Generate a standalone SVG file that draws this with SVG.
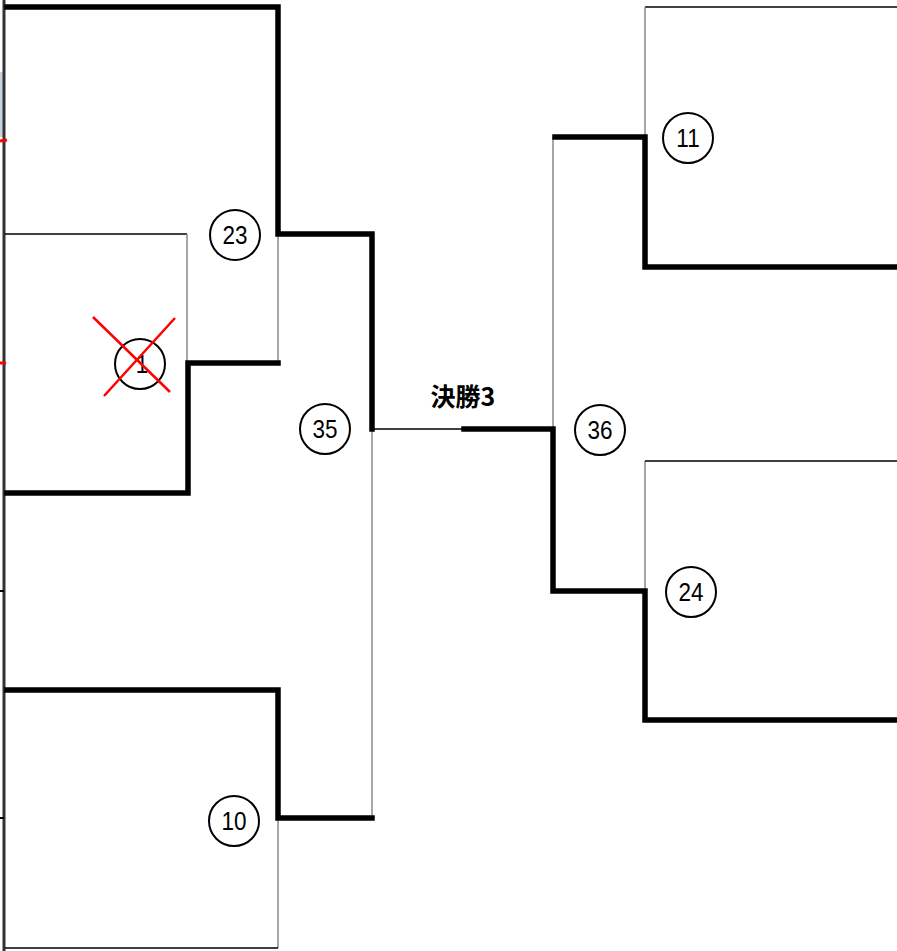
<svg xmlns="http://www.w3.org/2000/svg" width="897" height="951" viewBox="0 0 897 951">
<style>
.thick{fill:none;stroke:#000;stroke-width:5.5;stroke-linecap:square;stroke-linejoin:miter}
.thinh{fill:none;stroke:#000;stroke-width:1.3}
.thinv{fill:none;stroke:#888;stroke-width:1.5}
.c{fill:#fff;stroke:#000;stroke-width:2}
.n{font-family:"Liberation Sans",Arial,sans-serif;font-size:25px;fill:#000;text-anchor:middle}
.x{stroke:#f00;stroke-width:2.5}
</style>
<rect width="897" height="951" fill="#fff"/>
<g id="edge">
<rect x="0" y="72" width="3" height="65" fill="#c9d3e0"/>
<line x1="4" y1="0" x2="4" y2="951" stroke="#333" stroke-width="3"/>
<line x1="0" y1="141" x2="7" y2="140" stroke="#f00" stroke-width="3"/>
<line x1="0" y1="363" x2="6" y2="363" stroke="#f00" stroke-width="3"/>
<line x1="0" y1="591" x2="4" y2="591" stroke="#000" stroke-width="2"/>
<line x1="0" y1="818" x2="4" y2="818" stroke="#000" stroke-width="2"/>
</g>
<g id="connectors">
<polyline class="thinh" points="5,234 187,234"/>
<polyline class="thinv" points="187,234 187,363"/>
<polyline class="thinv" points="278,234 278,363"/>
<polyline class="thinv" points="278,818 278,948"/>
<polyline class="thinh" points="5,948 278,948"/>
<polyline class="thinv" points="372,429 372,818"/>
<polyline class="thinh" points="372,429 462,429"/>
<polyline class="thinh" points="645,7 897,7"/>
<polyline class="thinv" points="645,7 645,137"/>
<polyline class="thinv" points="553,137 553,429"/>
<polyline class="thinv" points="645,461 645,591"/>
<polyline class="thinh" points="645,461 897,461"/>
<polyline class="thick" points="7,7 278,7 278,234 372,234 372,429"/>
<polyline class="thick" points="7,493 188,493 188,363 278,363"/>
<polyline class="thick" points="7,690 278,690 278,818 372,818"/>
<polyline class="thick" points="464,429 553,429 553,591 645,591 645,720 897,720"/>
<polyline class="thick" points="555,137 645,137 645,267 897,267"/>
</g>
<g id="title">
<text x="463" y="406" text-anchor="middle" font-family="'Noto Sans CJK JP',sans-serif" font-weight="bold" font-size="25" fill="#000">決勝3</text>
</g>
<g id="node-23"><circle class="c" cx="235" cy="235" r="25"/><text class="n" x="235" y="244" transform="translate(235 0) scale(0.9 1) translate(-235 0)">23</text></g>
<g id="node-1"><circle class="c" cx="140" cy="364" r="25"/><text class="n" x="142" y="373" transform="translate(142 0) scale(0.9 1) translate(-142 0)">1</text>
<line class="x" x1="93" y1="317" x2="170" y2="392"/><line class="x" x1="175" y1="318" x2="104" y2="396"/></g>
<g id="node-35"><circle class="c" cx="325" cy="429" r="25"/><text class="n" x="325" y="438" transform="translate(325 0) scale(0.9 1) translate(-325 0)">35</text></g>
<g id="node-10"><circle class="c" cx="234" cy="821" r="25"/><text class="n" x="234" y="830" transform="translate(234 0) scale(0.9 1) translate(-234 0)">10</text></g>
<g id="node-11"><circle class="c" cx="688" cy="138" r="25"/><text class="n" x="688" y="147" transform="translate(688 0) scale(0.9 1) translate(-688 0)">11</text></g>
<g id="node-36"><circle class="c" cx="600" cy="430" r="25"/><text class="n" x="600" y="439" transform="translate(600 0) scale(0.9 1) translate(-600 0)">36</text></g>
<g id="node-24"><circle class="c" cx="691" cy="592" r="25"/><text class="n" x="691" y="601" transform="translate(691 0) scale(0.9 1) translate(-691 0)">24</text></g>
</svg>
